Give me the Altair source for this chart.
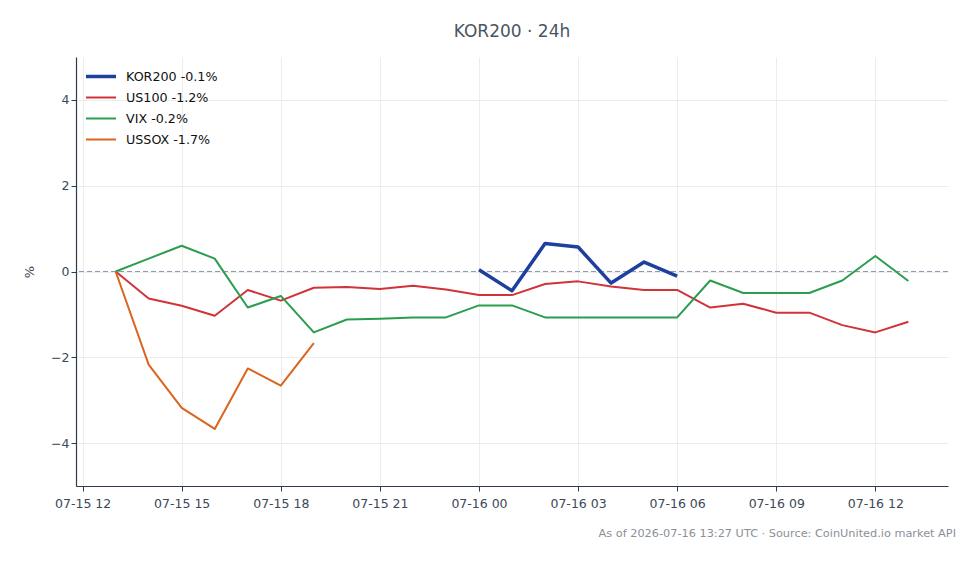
import altair as alt
import pandas as pd

# Hourly timestamps (UTC) covering the 24h window
hours = [f"2026-07-15T{h:02d}:00:00Z" for h in range(13, 24)] + \
        [f"2026-07-16T{h:02d}:00:00Z" for h in range(0, 14)]

# Percent change since window start, per instrument (None = no quote)
us100 = [0.0, -0.63, -0.80, -1.03, -0.43, -0.68, -0.38, -0.36, -0.41, -0.33, -0.42,
         -0.55, -0.55, -0.29, -0.23, -0.35, -0.43, -0.43, -0.84, -0.75, -0.96, -0.96,
         -1.25, -1.42, -1.17]
vix = [0.0, 0.30, 0.60, 0.30, -0.84, -0.57, -1.42, -1.12, -1.10, -1.07, -1.07,
       -0.79, -0.79, -1.07, -1.07, -1.07, -1.07, -1.07, -0.21, -0.50, -0.50, -0.50,
       -0.21, 0.36, -0.22]
ussox = [0.0, -2.17, -3.18, -3.67, -2.26, -2.66, -1.67] + [None] * 18
kor200 = [None] * 11 + [0.04, -0.45, 0.65, 0.57, -0.27, 0.22, -0.11] + [None] * 7

series_names = ["KOR200 -0.1%", "US100 -1.2%", "VIX -0.2%", "USSOX -1.7%"]
series_values = [kor200, us100, vix, ussox]
series_colors = ["#1f3f9f", "#d0333a", "#2a9d4f", "#d9651e"]
series_widths = [3.5, 2.0, 2.0, 2.0]

y_ticks = [-4, -2, 0, 2, 4]
x_ticks = [f"2026-07-{d}T{h:02d}:00:00Z" for d, h in
           [(15, 12), (15, 15), (15, 18), (15, 21), (16, 0), (16, 3), (16, 6), (16, 9), (16, 12)]]

footer = "As of 2026-07-16 13:27 UTC · Source: CoinUnited.io market API"

rows = []
for name, vals in zip(series_names, series_values):
    for t, v in zip(hours, vals):
        if v is not None:
            rows.append({"time": t, "series": name, "pct": v})
df = pd.DataFrame(rows)

x_domain = [pd.Timestamp("2026-07-15T11:48:00Z").value // 10**6,
            pd.Timestamp("2026-07-16T14:12:00Z").value // 10**6]
x_tick_ms = [pd.Timestamp(t).value // 10**6 for t in x_ticks]

FONT = "DejaVu Sans"
AXIS_COLOR = "#2f3b4c"
TEXT_COLOR = "#3c4858"

x_enc = alt.X(
    "time:T",
    scale=alt.Scale(type="utc", domain=x_domain, nice=False),
    axis=alt.Axis(values=x_tick_ms, labelExpr="utcFormat(datum.value, '%m-%d %H')",
                  title=None, grid=True, labelFlush=False, labelPadding=6),
)
y_enc = alt.Y(
    "pct:Q",
    scale=alt.Scale(domain=[-5, 5], nice=False),
    axis=alt.Axis(values=y_ticks, title="%", grid=True, titlePadding=14),
)

lines = alt.Chart(df).mark_line(strokeJoin="round").encode(
    x=x_enc,
    y=y_enc,
    color=alt.Color("series:N", scale=alt.Scale(domain=series_names, range=series_colors),
                    title=None),
    strokeWidth=alt.StrokeWidth("series:N",
                                scale=alt.Scale(type="ordinal", domain=series_names,
                                                range=series_widths),
                                title=None),
)

zero = alt.Chart(pd.DataFrame({"v": [0]})).mark_rule(
    color="#8a9bb0", strokeDash=[5, 3], strokeWidth=1
).encode(y="v:Q")

note = alt.Chart(pd.DataFrame({"note": [footer]})).mark_text(
    align="right", baseline="middle", fontSize=11.3, font=FONT, color="#8a9099"
).encode(text="note:N", x=alt.value(880), y=alt.value(477))

chart = alt.layer(zero, lines, note).properties(
    width=872,
    height=429,
    autosize=alt.AutoSizeParams(type="none"),
    padding={"left": 76, "top": 57, "right": 32, "bottom": 78},
    title=alt.TitleParams("KOR200 · 24h", fontSize=17, font=FONT, fontWeight="normal",
                          color="#4a5563", anchor="middle", offset=16),
).configure_view(
    stroke=None
).configure_axis(
    labelFont=FONT, titleFont=FONT, labelFontSize=12.5, titleFontSize=13,
    labelColor=TEXT_COLOR, titleColor=TEXT_COLOR, titleFontWeight="normal",
    gridColor="#ececec", gridWidth=1, domainColor=AXIS_COLOR, domainWidth=1.2,
    tickColor=AXIS_COLOR, tickSize=5, tickWidth=1,
).configure_legend(
    orient="none", legendX=15.5, legendY=10, symbolType="M-2,0L2,0", symbolSize=225,
    labelFont=FONT, labelFontSize=12.7, labelColor="#111111", labelOffset=15.5,
    rowPadding=5,
)

chart.save("out.html", embed_options={"renderer": "svg", "actions": False})
